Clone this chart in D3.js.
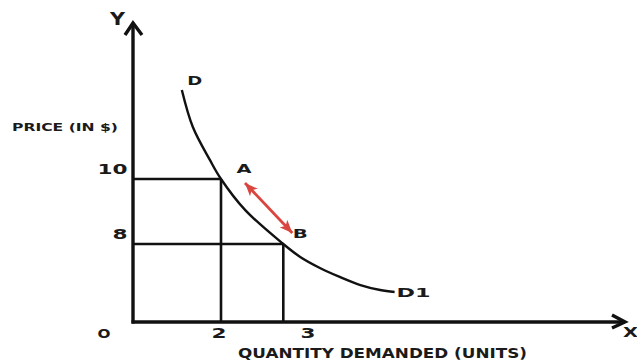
<!DOCTYPE html>
<html><head><meta charset="utf-8">
<script src="https://cdn.jsdelivr.net/npm/d3@7"></script>
<style>html,body{margin:0;padding:0;background:#fff;} svg{display:block;}</style>
</head><body><svg id="c" width="637" height="360"></svg>
<script>
// ---- data ----
const curveQuantity = [1.11, 1.36, 1.75, 2.0, 2.27, 2.70, 2.89, 3.11, 3.33, 3.56, 3.78, 3.94];
const curvePrice    = [12.74, 11.6, 10.58, 10.0, 9.05, 8.0, 6.67, 5.54, 4.62, 3.79, 3.28, 3.08];
const pointNames    = ["A", "B"];
const pointQuantity = [2, 2.70];
const pointPrice    = [10, 8];
const priceTicks    = [10, 8];
const quantityTicks = [2, 3];
const curveStartLabel = "D";
const curveEndLabel   = "D1";
const xTitle = "QUANTITY DEMANDED (UNITS)";
const yTitle = "PRICE (IN $)";
const originLabel = "O";

// ---- scales (schematic, piecewise) ----
const x = d3.scaleLinear().domain([0, 2, 3, 6.5]).range([133, 221, 310, 625]);
const y = d3.scaleLinear().domain([0, 8, 10, 14.8]).range([322, 244, 179, 23]);

const svg = d3.select("#c");
const ink = "#111";
const FONT = "'DejaVu Sans', Arial, sans-serif";

function txt(cx, cy, s, size, width, anchor) {
  const t = svg.append("text")
    .attr("x", cx).attr("y", cy).attr("dy", "0.36em")
    .attr("text-anchor", anchor || "middle")
    .attr("font-family", FONT).attr("font-weight", "bold")
    .attr("font-size", size).attr("fill", "#1a1a1a")
    .text(s);
  if (width) t.attr("textLength", width).attr("lengthAdjust", "spacingAndGlyphs");
  return t;
}

const x0 = x(0), y0 = y(0);
const xMax = x.domain()[x.domain().length - 1];
const yMax = y.domain()[y.domain().length - 1];

// guide lines
const pts = pointNames.map((n, i) => ({name: n, q: pointQuantity[i], p: pointPrice[i]}));
pts.forEach(d => {
  svg.append("line").attr("x1", x0).attr("x2", x(d.q)).attr("y1", y(d.p)).attr("y2", y(d.p))
    .attr("stroke", ink).attr("stroke-width", 2.6);
  svg.append("line").attr("x1", x(d.q)).attr("x2", x(d.q)).attr("y1", y(d.p)).attr("y2", y0)
    .attr("stroke", ink).attr("stroke-width", 2.6);
});

// axes
svg.append("line").attr("x1", x0).attr("x2", x0).attr("y1", y0 + 1.5).attr("y2", y(yMax) + 1)
  .attr("stroke", ink).attr("stroke-width", 3.4);
svg.append("path")
  .attr("d", `M${x0 - 8},${y(yMax) + 12} L${x0},${y(yMax)} L${x0 + 9},${y(yMax) + 12}`)
  .attr("fill", "none").attr("stroke", ink).attr("stroke-width", 3.4).attr("stroke-linejoin", "miter");
svg.append("line").attr("x1", x0 - 1.5).attr("x2", x(xMax) - 1).attr("y1", y0).attr("y2", y0)
  .attr("stroke", ink).attr("stroke-width", 3.4);
svg.append("path")
  .attr("d", `M${x(xMax) - 13},${y0 - 7} L${x(xMax)},${y0} L${x(xMax) - 13},${y0 + 6}`)
  .attr("fill", "none").attr("stroke", ink).attr("stroke-width", 3.4);

// demand curve
const curve = curveQuantity.map((q, i) => [x(q), y(curvePrice[i])]);
svg.append("path")
  .attr("d", d3.line().curve(d3.curveCatmullRom.alpha(0.5))(curve))
  .attr("fill", "none").attr("stroke", ink).attr("stroke-width", 2.4);

// red double arrow between A and B
const red = "#d9453f";
const defs = svg.append("defs");
["s", "e"].forEach(k => {
  defs.append("marker").attr("id", "ah" + k)
    .attr("markerUnits", "userSpaceOnUse")
    .attr("viewBox", "0 0 12 10").attr("refX", 12).attr("refY", 5)
    .attr("markerWidth", 13).attr("markerHeight", 11)
    .attr("orient", k === "s" ? "auto-start-reverse" : "auto")
    .append("path").attr("d", "M0,0 L12,5 L0,10 L3,5 Z").attr("fill", red);
});
const A = pts[0], B = pts[1];
svg.append("line")
  .attr("x1", x(A.q) + 24).attr("y1", y(A.p) + 4)
  .attr("x2", x(B.q) + 9).attr("y2", y(B.p) - 11)
  .attr("stroke", red).attr("stroke-width", 2.8)
  .attr("marker-start", "url(#ahs)").attr("marker-end", "url(#ahe)");

// labels
txt(x0 - 15.5, y(yMax) - 4.5, "Y", 17, 15);
txt(x(xMax) - 2, y0 + 10, "X", 14, 15, "start");
txt(x0 - 15, 127, yTitle, 10, 106, "end");
txt(238, 353, xTitle, 14, 289, "start");
txt(x0 - 29, y0 + 11, originLabel, 13, 13);
priceTicks.forEach(v => txt(x0 - 5.5, y(v) - 10, String(v), 14, String(v).length * 15, "end"));
quantityTicks.forEach(v => txt(x(v) - 2, y0 + 11, String(v), 14, 15));
txt(curve[0][0] + 13, curve[0][1] - 9, curveStartLabel, 12, 15);
pts.forEach((d, i) => {
  const off = i === 0 ? [23, -10] : [17, -10];
  txt(x(d.q) + off[0], y(d.p) + off[1], d.name, 12, 15);
});
const last = curve[curve.length - 1];
txt(last[0] + 2, last[1], curveEndLabel, 13, 34, "start");
</script>
</body></html>
